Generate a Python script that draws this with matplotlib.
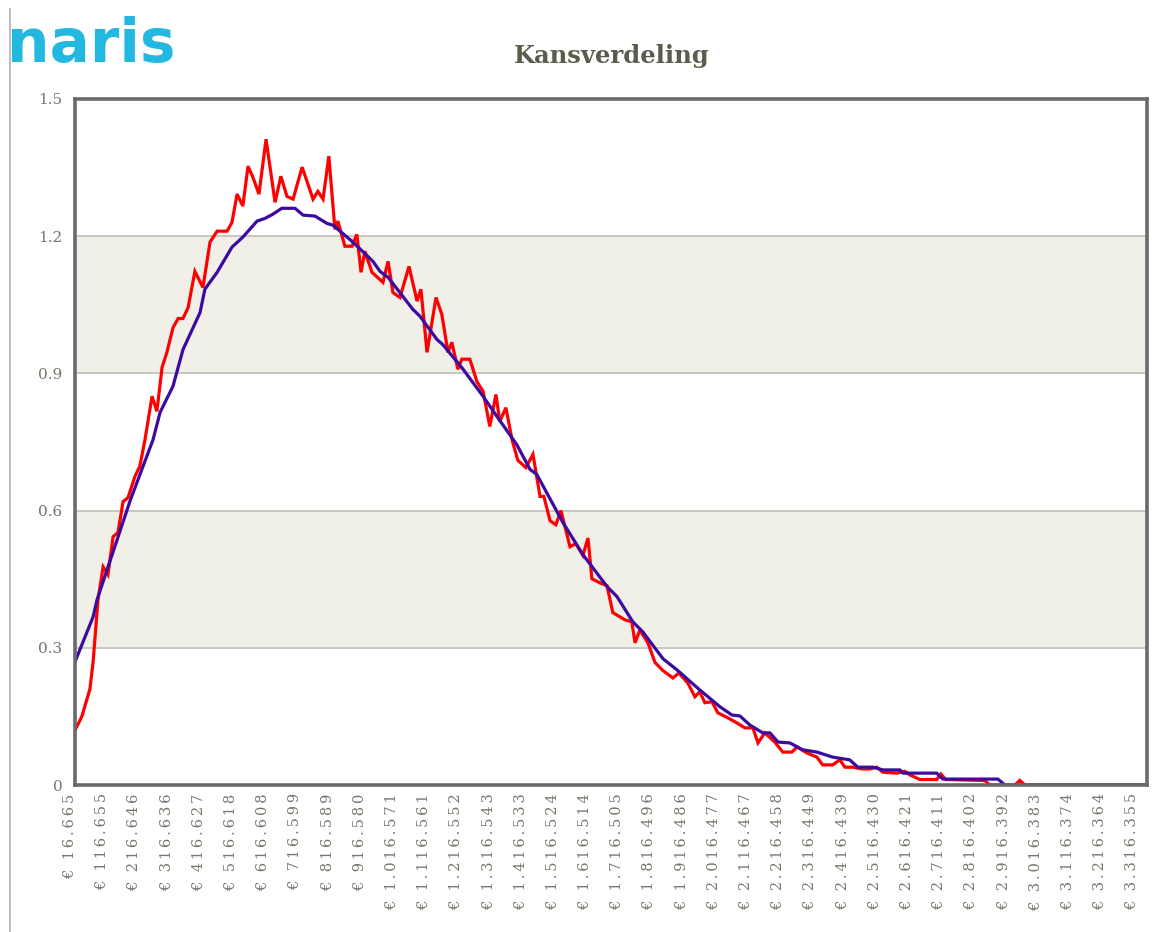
import matplotlib
matplotlib.use("Agg")
import matplotlib.pyplot as plt
import matplotlib.transforms as mtransforms
from matplotlib.lines import Line2D

# x values in thousands of euros
red_x = [17, 38, 63, 73, 88, 104, 119, 135, 150, 166, 181, 203, 218, 234, 256, 271,
         287, 302, 321, 337, 352, 368, 389, 414, 436, 458, 489, 504, 520, 538, 554,
         569, 588, 610, 638, 656, 675, 694, 722, 756, 771, 787, 805, 824, 833, 855,
         877, 892, 905, 917, 939, 973, 989, 1004, 1026, 1054, 1079, 1091, 1110, 1138,
         1156, 1175, 1187, 1206, 1218, 1243, 1265, 1284, 1305, 1324, 1336, 1355, 1374,
         1392, 1417, 1439, 1461, 1473, 1492, 1510, 1526, 1554, 1572, 1594, 1610, 1622,
         1650, 1669, 1687, 1725, 1746, 1756, 1771, 1796, 1818, 1843, 1874, 1892, 1920,
         1942, 1957, 1973, 1995, 2013, 2044, 2072, 2097, 2122, 2138, 2159, 2190, 2215,
         2243, 2259, 2290, 2321, 2339, 2370, 2392, 2408, 2433, 2461, 2485, 2507, 2526,
         2569, 2594, 2610, 2641, 2693, 2706, 2721, 2842, 2858, 2936, 2951, 2967, 3346]
red_y = [0.12, 0.15, 0.21, 0.27, 0.405, 0.477, 0.46, 0.543, 0.552, 0.62, 0.628, 0.675,
         0.697, 0.755, 0.85, 0.817, 0.913, 0.946, 1.0, 1.02, 1.02, 1.044, 1.123, 1.088,
         1.187, 1.211, 1.211, 1.23, 1.292, 1.266, 1.353, 1.329, 1.292, 1.412, 1.274,
         1.331, 1.287, 1.281, 1.351, 1.281, 1.298, 1.281, 1.375, 1.215, 1.233, 1.178,
         1.178, 1.204, 1.121, 1.167, 1.121, 1.099, 1.145, 1.077, 1.066, 1.134, 1.058,
         1.084, 0.946, 1.066, 1.029, 0.946, 0.968, 0.909, 0.931, 0.931, 0.882, 0.861,
         0.784, 0.854, 0.795, 0.825, 0.755, 0.71, 0.694, 0.723, 0.631, 0.631, 0.578,
         0.569, 0.6, 0.521, 0.528, 0.502, 0.54, 0.451, 0.441, 0.436, 0.377, 0.361,
         0.357, 0.311, 0.339, 0.311, 0.268, 0.25, 0.234, 0.245, 0.223, 0.193, 0.204,
         0.18, 0.182, 0.158, 0.147, 0.136, 0.125, 0.125, 0.092, 0.114, 0.094, 0.072,
         0.072, 0.083, 0.07, 0.061, 0.044, 0.044, 0.055, 0.039, 0.039, 0.035, 0.035,
         0.039, 0.028, 0.026, 0.03, 0.022, 0.012, 0.012, 0.024, 0.012, 0.01, 0.0, 0.0,
         0.01, 0.0, 0.0]

blue_x = [17, 73, 85, 135, 187, 228, 259, 281, 321, 352, 405, 420, 458, 504, 538, 582,
          607, 631, 659, 700, 725, 762, 799, 818, 880, 942, 964, 989, 1066, 1088, 1141,
          1159, 1222, 1284, 1327, 1389, 1430, 1451, 1532, 1594, 1669, 1700, 1749, 1780,
          1843, 1886, 1957, 2020, 2057, 2082, 2113, 2153, 2175, 2200, 2237, 2277, 2321,
          2370, 2423, 2448, 2495, 2526, 2579, 2588, 2693, 2712, 2883, 2905, 3346]
blue_y = [0.27, 0.368, 0.405, 0.51, 0.62, 0.697, 0.755, 0.815, 0.872, 0.952, 1.033,
          1.084, 1.121, 1.176, 1.198, 1.233, 1.239, 1.248, 1.261, 1.261, 1.246, 1.244,
          1.228, 1.224, 1.187, 1.145, 1.123, 1.11, 1.04, 1.025, 0.974, 0.963, 0.909,
          0.85, 0.806, 0.744, 0.69, 0.679, 0.574, 0.504, 0.434, 0.412, 0.357, 0.335,
          0.276, 0.252, 0.208, 0.171, 0.153, 0.151, 0.131, 0.114, 0.114, 0.094, 0.092,
          0.077, 0.072, 0.061, 0.055, 0.039, 0.039, 0.033, 0.033, 0.026, 0.026, 0.013,
          0.013, 0.0, 0.0]

tick_labels = ["16.665", "116.655", "216.646", "316.636", "416.627", "516.618",
               "616.608", "716.599", "816.589", "916.580", "1.016.571", "1.116.561",
               "1.216.552", "1.316.543", "1.416.533", "1.516.524", "1.616.514",
               "1.716.505", "1.816.496", "1.916.486", "2.016.477", "2.116.467",
               "2.216.458", "2.316.449", "2.416.439", "2.516.430", "2.616.421",
               "2.716.411", "2.816.402", "2.916.392", "3.016.383", "3.116.374",
               "3.216.364", "3.316.355"]
y_ticks = [0, 0.3, 0.6, 0.9, 1.2, 1.5]
y_tick_labels = ["0", "0.3", "0.6", "0.9", "1.2", "1.5"]

text_col = "#76766a"


def spaced(s):
    # the original labels are drawn with extra letter spacing
    return "\u2009".join(s)


fig = plt.figure(figsize=(11.63, 9.32), dpi=100)
ax = fig.add_axes([0.0645, 0.1577, 0.9217, 0.7361])

# alternating bands and grid lines
for lo, hi in [(0.3, 0.6), (0.9, 1.2)]:
    ax.axhspan(lo, hi, color="#f0f0e9", zorder=0, lw=0)
for v in y_ticks[1:-1]:
    ax.axhline(v, color="#c4c4bc", lw=1.3, zorder=1)

ax.plot(red_x, red_y, color="#ff0000", lw=2.3, zorder=3, solid_joinstyle="miter")
ax.plot(blue_x, blue_y, color="#3c0aa0", lw=2.3, zorder=4)

ax.set_xlim(16.665, 3346)
ax.set_ylim(0, 1.5)

tick_pos = [int(s.replace(".", "")) / 1000 for s in tick_labels]
ax.set_xticks(tick_pos)
ax.set_xticklabels([spaced("€ " + s) for s in tick_labels], rotation=90,
                   family="DejaVu Serif", fontsize=10.5, color=text_col)
ax.set_yticks(y_ticks)
ax.set_yticklabels(y_tick_labels, family="DejaVu Serif", fontsize=11, color=text_col)
ax.tick_params(axis="both", length=0)
ax.tick_params(axis="x", pad=6)
ax.tick_params(axis="y", pad=9)

offset = mtransforms.ScaledTranslation(-5 / 100, 0, fig.dpi_scale_trans)
for lbl in ax.get_xticklabels():
    lbl.set_transform(lbl.get_transform() + offset)

for sp in ax.spines.values():
    sp.set_color("#6a6a6a")
    sp.set_linewidth(2.6)
    sp.set_zorder(5)

fig.text(0.526, 0.94, "Kansverdeling", ha="center", va="center", family="DejaVu Serif",
         fontweight="bold", fontsize=17.5, color="#5c5c4c")

fig.text(0.006, 0.934, "naris", ha="left", va="baseline", family="DejaVu Sans",
         fontweight="bold", fontsize=43, color="#22b8e0")

fig.add_artist(Line2D([0.0085, 0.0085], [0.0, 0.99], transform=fig.transFigure,
                      color="#b0b0b0", lw=1.2))

fig.savefig("out.png", dpi=100, facecolor="white")
